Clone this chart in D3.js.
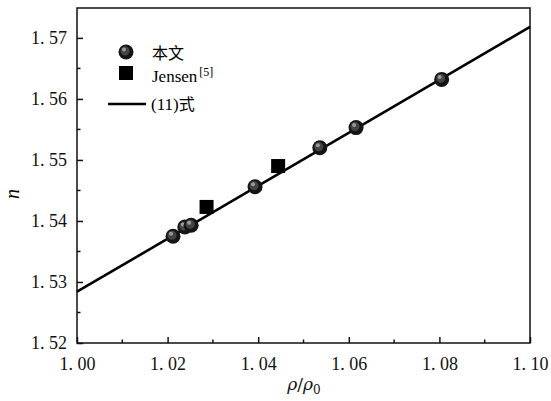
<!DOCTYPE html>
<html>
<head>
<meta charset="utf-8">
<script src="https://cdn.jsdelivr.net/npm/d3@7"></script>
<style>
  body { margin: 0; background: #fff; }
</style>
</head>
<body>
<div id="chart"></div>
<script>
// data
var ourRho = [1.0212, 1.0238, 1.0252, 1.0393, 1.0536, 1.0616, 1.0805];
var ourN   = [1.5375, 1.5390, 1.5393, 1.5456, 1.5520, 1.5553, 1.5632];
var jensenRho = [1.0286, 1.0444];
var jensenN   = [1.5423, 1.5490];
var fitRho = [1.00, 1.10];
var fitN   = [1.5284, 1.5718];
var xTicks = [1.00, 1.02, 1.04, 1.06, 1.08, 1.10];
var yTicks = [1.52, 1.53, 1.54, 1.55, 1.56, 1.57];

var SERIF = "Liberation Serif";
var CJK = "Noto Sans CJK SC";

var margin = {top: 8, right: 21, bottom: 58, left: 77},
    width = 551 - margin.left - margin.right,
    height = 401 - margin.top - margin.bottom;

var x = d3.scaleLinear().domain([1.00, 1.10]).range([0, width]);
var y = d3.scaleLinear().domain([1.52, 1.5749]).range([height, 0]);

// tick labels written as "1. 57"
var fmt = function(d) { return d3.format(".2f")(d).replace(".", ". "); };

var svg = d3.select("#chart").append("svg")
    .attr("width", 551)
    .attr("height", 401)
    .attr("font-family", SERIF)
    .style("display", "block");

var g = svg.append("g")
    .attr("transform", "translate(" + margin.left + "," + margin.top + ")");

// x axis, inward ticks
var xAxis = g.append("g")
    .attr("transform", "translate(0," + height + ")")
    .call(d3.axisBottom(x).tickValues(xTicks).tickSize(-6).tickPadding(10).tickFormat(fmt))
    .attr("font-family", SERIF).attr("font-size", 18);
xAxis.select(".domain").remove();
xAxis.selectAll("line").attr("stroke", "#111").attr("stroke-width", 1.5);
xAxis.selectAll("text").attr("dy", "0.95em").attr("fill", "#111");

g.append("g")
    .attr("transform", "translate(0," + height + ")")
    .selectAll("line")
    .data([1.01, 1.03, 1.05, 1.07, 1.09])
    .enter().append("line")
    .attr("x1", function(d) { return x(d); })
    .attr("x2", function(d) { return x(d); })
    .attr("y1", 0).attr("y2", -3.5)
    .attr("stroke", "#111").attr("stroke-width", 1.5);

// y axis
var yAxis = g.append("g")
    .call(d3.axisLeft(y).tickValues(yTicks).tickSize(-6).tickPadding(10).tickFormat(fmt))
    .attr("font-family", SERIF).attr("font-size", 18);
yAxis.select(".domain").remove();
yAxis.selectAll("line").attr("stroke", "#111").attr("stroke-width", 1.5);
yAxis.selectAll("text").attr("fill", "#111");

g.append("g")
    .selectAll("line")
    .data([1.525, 1.535, 1.545, 1.555, 1.565])
    .enter().append("line")
    .attr("y1", function(d) { return y(d); })
    .attr("y2", function(d) { return y(d); })
    .attr("x1", 0).attr("x2", 3.5)
    .attr("stroke", "#111").attr("stroke-width", 1.5);

// frame
g.append("rect")
    .attr("width", width).attr("height", height)
    .attr("fill", "none").attr("stroke", "#111").attr("stroke-width", 1.5);

// axis labels
svg.append("text")
    .attr("transform", "translate(19," + (margin.top + 186) + ") rotate(-90)")
    .attr("text-anchor", "middle")
    .attr("font-family", SERIF)
    .attr("font-style", "italic")
    .attr("font-size", 20)
    .text("n");

var xl = svg.append("text")
    .attr("x", 304).attr("y", 390)
    .attr("text-anchor", "middle")
    .attr("font-family", "DejaVu Serif")
    .attr("font-size", 17)
    .attr("fill", "#111");
xl.append("tspan").attr("font-style", "italic").text("ρ");
xl.append("tspan").text("/");
xl.append("tspan").attr("font-style", "italic").text("ρ");
xl.append("tspan").attr("dy", 4).attr("font-size", 12).text("0");

// fitted line (11)
var fitData = fitRho.map(function(r, i) { return {r: r, n: fitN[i]}; });
var line = d3.line()
    .x(function(d) { return x(d.r); })
    .y(function(d) { return y(d.n); });

g.append("path")
    .datum(fitData)
    .attr("fill", "none")
    .attr("stroke", "#000")
    .attr("stroke-width", 2.6)
    .attr("d", line);

// Jensen squares
var sq = 14;
g.selectAll(".jensen")
    .data(jensenRho.map(function(r, i) { return {r: r, n: jensenN[i]}; }))
    .enter().append("rect")
    .attr("class", "jensen")
    .attr("x", function(d) { return x(d.r) - sq / 2; })
    .attr("y", function(d) { return y(d.n) - sq / 2; })
    .attr("width", sq).attr("height", sq)
    .attr("fill", "#000");

// this work: shaded balls (dark body + soft highlight)
function ball(sel) {
    sel.append("circle").attr("r", 7.5).attr("fill", "#151515");
    sel.append("circle").attr("r", 4.5).attr("cx", -1).attr("cy", -1).attr("fill", "#444");
    sel.append("circle").attr("r", 2).attr("cx", -2).attr("cy", -2.5).attr("fill", "#9a9a9a");
}
g.selectAll(".ours")
    .data(ourRho.map(function(r, i) { return {r: r, n: ourN[i]}; }))
    .enter().append("g")
    .attr("class", "ours")
    .attr("transform", function(d) { return "translate(" + x(d.r) + "," + y(d.n) + ")"; })
    .call(ball);

// legend
var leg = svg.append("g");
leg.append("g").attr("transform", "translate(126,52)").call(ball);
leg.append("rect").attr("x", 119).attr("y", 66).attr("width", sq).attr("height", sq).attr("fill", "#000");
leg.append("line").attr("x1", 108).attr("x2", 146).attr("y1", 104).attr("y2", 104)
    .attr("stroke", "#000").attr("stroke-width", 2.6);

leg.append("text").attr("x", 152).attr("y", 59)
    .attr("font-family", CJK).attr("font-size", 16)
    .text("本文");
var jt = leg.append("text").attr("x", 152).attr("y", 82)
    .attr("font-family", SERIF).attr("font-size", 17);
jt.append("tspan").text("Jensen");
jt.append("tspan").attr("dy", -6).attr("dx", 2).attr("font-size", 12).text("[5]");
var ft = leg.append("text").attr("x", 151).attr("y", 110)
    .attr("font-family", SERIF).attr("font-size", 17);
ft.append("tspan").text("(11)");
ft.append("tspan").attr("font-family", CJK).attr("font-size", 16).text("式");
</script>
</body>
</html>
